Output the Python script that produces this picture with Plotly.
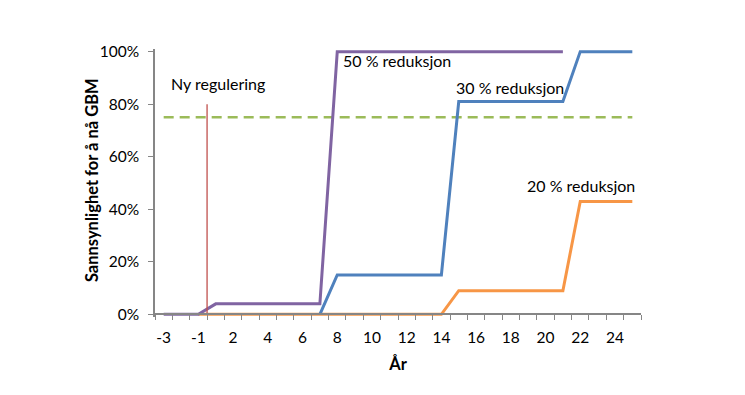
import plotly.graph_objects as go

# ---- data ----
years = [-3, -2, -1, 1, 2, 3, 4, 5, 6, 7, 8, 9, 10, 11, 12, 13, 14,
         15, 16, 17, 18, 19, 20, 21, 22, 23, 24, 25]
N = None
red50 = [0, 0, 0, 0.04, 0.04, 0.04, 0.04, 0.04, 0.04, 0.04,
         1, 1, 1, 1, 1, 1, 1, 1, 1, 1, 1, 1, 1, 1, N, N, N, N]
red30 = [N, N, N, N, N, N, N, N, N, 0,
         0.15, 0.15, 0.15, 0.15, 0.15, 0.15, 0.15,
         0.81, 0.81, 0.81, 0.81, 0.81, 0.81, 0.81, 1, 1, 1, 1]
red20 = [N, N, 0, 0, 0, 0, 0, 0, 0, 0, 0, 0, 0, 0, 0, 0, 0,
         0.09, 0.09, 0.09, 0.09, 0.09, 0.09, 0.09, 0.43, 0.43, 0.43, 0.43]
gbm_threshold = 0.75
regulation_level = 0.80
y_ticks = [0, 0.2, 0.4, 0.6, 0.8, 1.0]
y_ticklabels = ["0%", "20%", "40%", "60%", "80%", "100%"]

idx = list(range(len(years)))
label_idx = idx[::2][:14]
label_text = [str(years[i]) for i in label_idx]

FONT = "Lato, 'Open Sans', sans-serif"

fig = go.Figure()
fig.add_trace(go.Scatter(x=[idx[0], idx[-1]], y=[gbm_threshold, gbm_threshold],
                         mode="lines", line=dict(color="#9BBB59", width=2.5, dash="10px,6px"),
                         showlegend=False, hoverinfo="skip"))
fig.add_trace(go.Scatter(x=idx, y=red20, mode="lines",
                         line=dict(color="#F79646", width=3), showlegend=False))
fig.add_trace(go.Scatter(x=idx, y=red30, mode="lines",
                         line=dict(color="#4F81BD", width=3), showlegend=False))
fig.add_trace(go.Scatter(x=idx, y=red50, mode="lines",
                         line=dict(color="#8064A2", width=3), showlegend=False))
# regulation marker between -1 and 1
fig.add_trace(go.Scatter(x=[2.5, 2.5], y=[0, regulation_level], mode="lines",
                         line=dict(color="#C0504D", width=1.3), showlegend=False,
                         hoverinfo="skip"))

ann_font = dict(family=FONT, size=16, color="#000000")
for txt, x, y in [("Ny regulering", 0.3, 0.88),
                  ("50 % reduksjon", 10.2, 0.965),
                  ("30 % reduksjon", 16.75, 0.864),
                  ("20 % reduksjon", 20.8, 0.489)]:
    fig.add_annotation(x=x, y=y, text=txt, showarrow=False, xanchor="left",
                       yanchor="middle", font=ann_font)

# y-axis title placed as rotated annotation
fig.add_annotation(xref="paper", yref="paper", x=-0.128, y=0.51,
                   text="<b>Sannsynlighet for å nå GBM</b>", textangle=-90,
                   showarrow=False, xanchor="center", yanchor="middle",
                   font=dict(family=FONT, size=16.5, color="#000000"))

ymin, ymax = -0.01, 1.01
fig.update_layout(
    width=745, height=395,
    margin=dict(l=147, r=112, t=41, b=86),
    paper_bgcolor="white", plot_bgcolor="white",
    font=dict(family=FONT, size=15.5, color="#000000"),
    xaxis=dict(
        range=[-0.5, len(years) - 0.5],
        tickmode="array", tickvals=label_idx, ticktext=label_text,
        ticks="", showgrid=False, zeroline=False,
        showline=True, linecolor="#868686", linewidth=1.5,
        anchor="free", position=(0 - ymin) / (ymax - ymin),
        ticklabelstandoff=9,
        tickfont=dict(family=FONT, size=15.5, color="#000000"),
        minor=dict(tickmode="array", tickvals=[i - 0.5 for i in range(len(years) + 1)],
                   ticks="outside", ticklen=5, tickcolor="#868686", tickwidth=1,
                   showgrid=False),
        title=dict(text="<b>År</b>", font=dict(family=FONT, size=16.5), standoff=13),
    ),
    yaxis=dict(
        range=[ymin, ymax],
        tickmode="array", tickvals=y_ticks, ticktext=y_ticklabels,
        ticks="outside", ticklen=5, tickcolor="#868686", tickwidth=1,
        showgrid=False, zeroline=False,
        showline=True, linecolor="#868686", linewidth=1.5,
        ticklabelstandoff=6,
        tickfont=dict(family=FONT, size=15.5, color="#000000"),
    ),
)

fig.write_html("out.html")
